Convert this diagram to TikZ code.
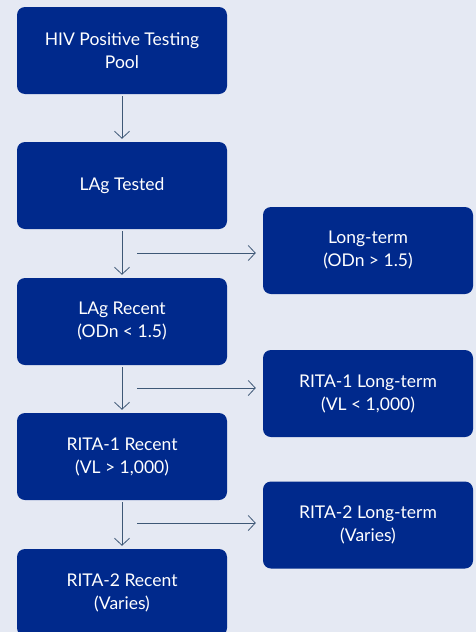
\documentclass[tikz,border=0pt]{standalone}
\usepackage{fontspec}
\setmainfont{Lato}
\usepackage{tikz}
\usetikzlibrary{arrows.meta}

\definecolor{boxblue}{RGB}{0,41,140}
\definecolor{paleback}{RGB}{229,233,243}
\definecolor{arrowgray}{RGB}{62,88,118}

\begin{document}
\begin{tikzpicture}[x=1pt, y=-1pt,
	stagebox/.style={fill=boxblue, text=white, rounded corners=8pt, minimum width=210pt, minimum height=87pt, align=center, font=\fontsize{17.5}{23}\selectfont},
	flow/.style={arrowgray, line width=0.8pt, -{Straight Barb[length=7pt, width=15pt]}}]
% background and frame
	\clip (0,0) rectangle (476,632);
	\fill[paleback] (0,0) rectangle (476,632);
% left column
	\node[stagebox] (hivpool) at (122, 50.5) {HIV Positive Testing\\Pool};
	\node[stagebox] (lagtest) at (122, 185.5) {LAg Tested};
	\node[stagebox] (lagrecent) at (122, 321.5) {LAg Recent\\(ODn < 1.5)};
	\node[stagebox] (rita1recent) at (122, 456.5) {RITA-1 Recent\\(VL > 1,000)};
	\node[stagebox] (rita2recent) at (122, 592.5) {RITA-2 Recent\\(Varies)};
% right column
	\node[stagebox] (longterm) at (368, 250.5) {Long-term\\(ODn > 1.5)};
	\node[stagebox] (rita1long) at (368, 393.5) {RITA-1 Long-term\\(VL < 1,000)};
	\node[stagebox] (rita2long) at (368, 525) {RITA-2 Long-term\\(Varies)};
% vertical arrows
	\draw[flow, shorten <=2pt, shorten >=3pt] (hivpool) -- (lagtest);
	\draw[flow, shorten <=2pt, shorten >=3pt] (lagtest) -- (lagrecent);
	\draw[flow, shorten <=2pt, shorten >=3pt] (lagrecent) -- (rita1recent);
	\draw[flow, shorten <=2pt, shorten >=3pt] (rita1recent) -- (rita2recent);
% side arrows
	\coordinate (split1) at (137, 253);
	\coordinate (split2) at (137, 388);
	\coordinate (split3) at (137, 523);
	\draw[flow, shorten >=7pt] (split1) -- (split1 -| longterm.west);
	\draw[flow, shorten >=7pt] (split2) -- (split2 -| rita1long.west);
	\draw[flow, shorten >=7pt] (split3) -- (split3 -| rita2long.west);
\end{tikzpicture}
\end{document}
